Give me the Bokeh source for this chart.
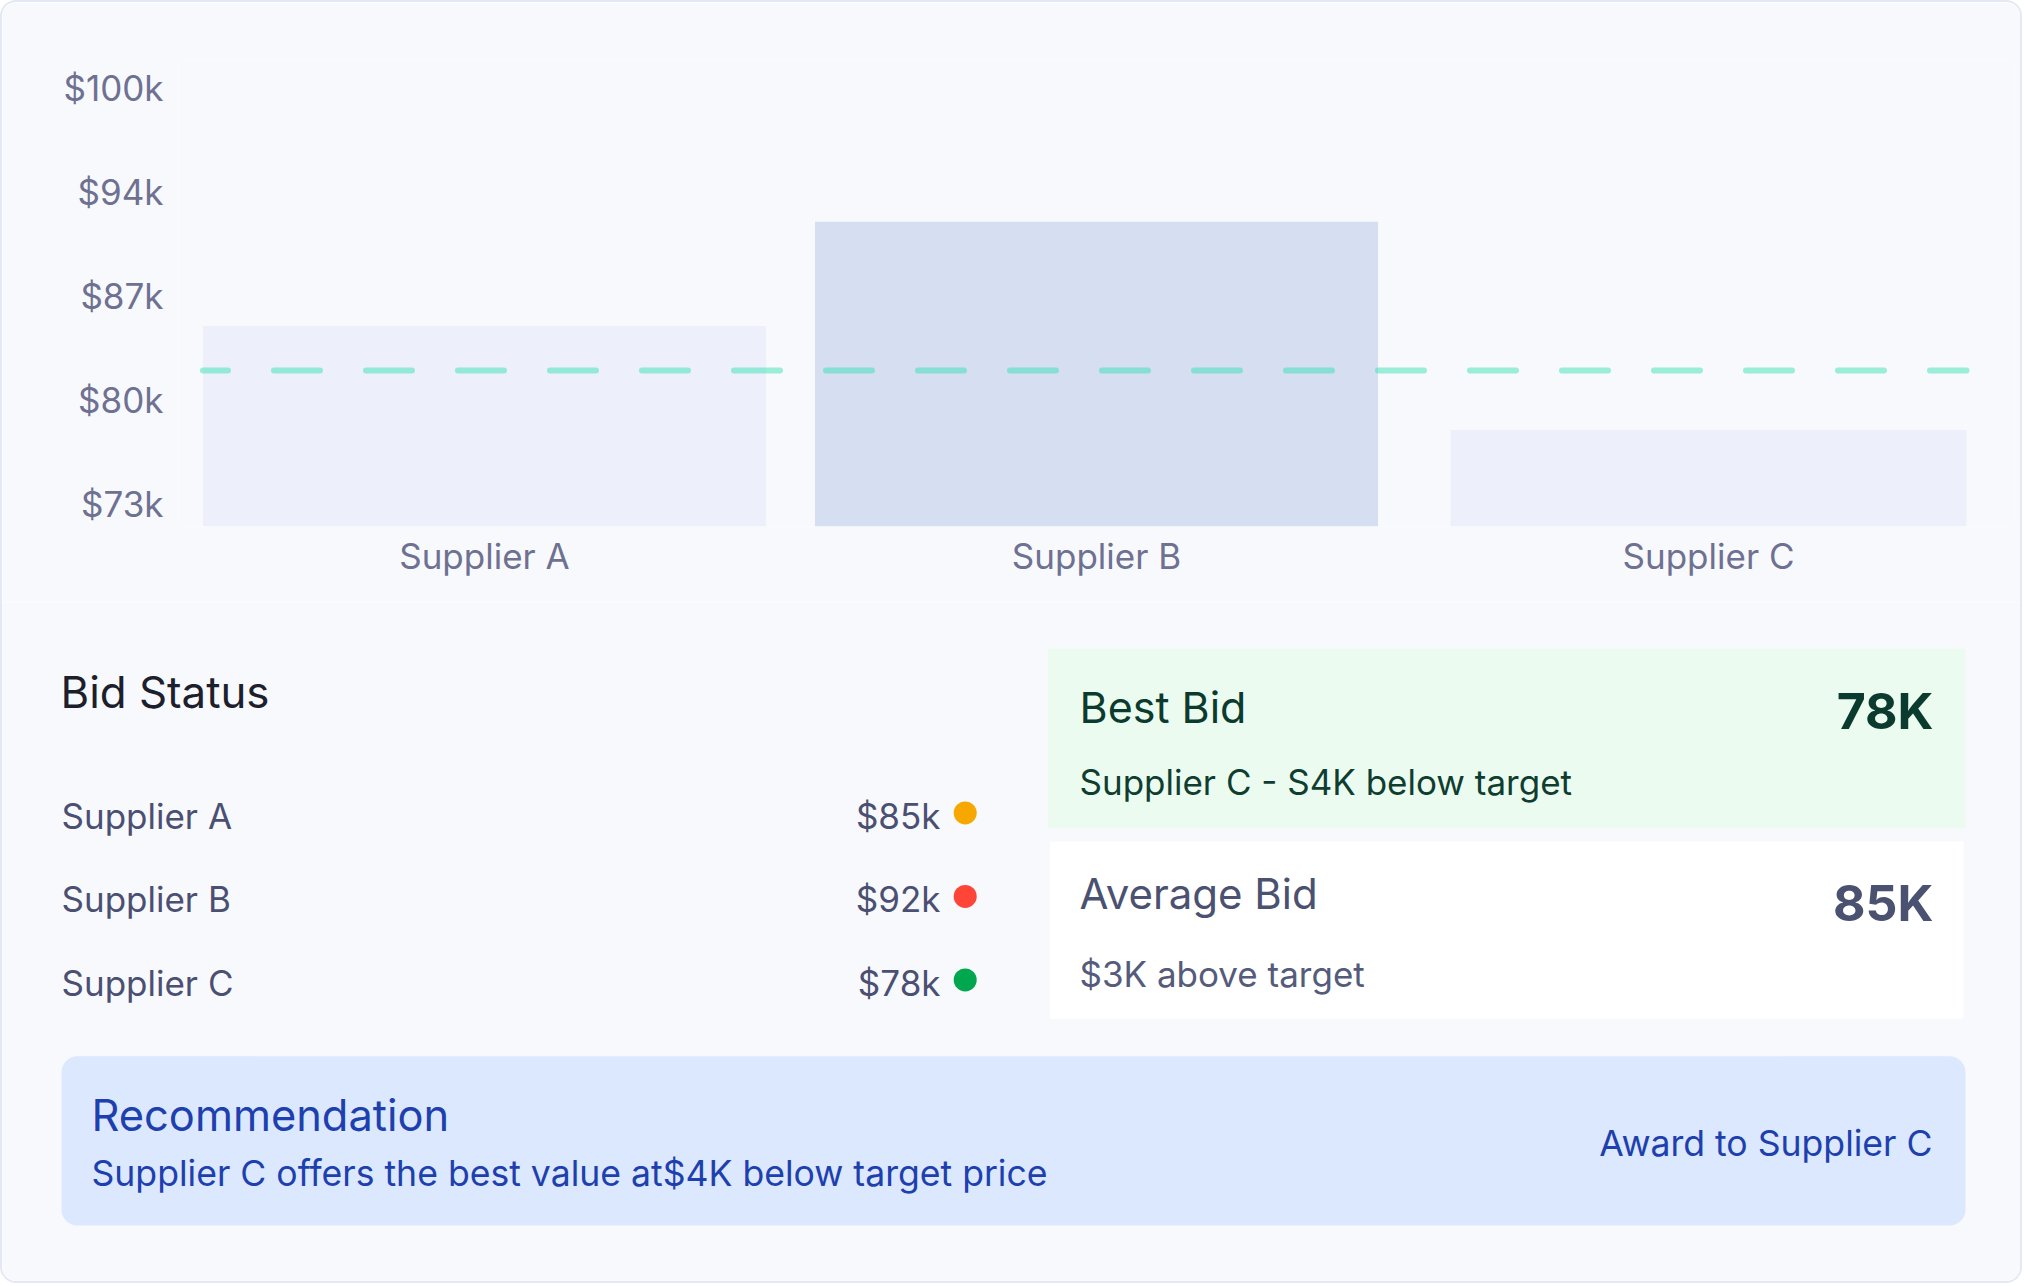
import numpy as np
from bokeh.plotting import figure
from bokeh.models import FactorRange, Range1d, FixedTicker, ColumnDataSource
from bokeh.transform import dodge
from bokeh.embed import file_html
from bokeh.resources import INLINE
from bokeh.core.properties import value

# ---------------- data ----------------
suppliers = ["Supplier A", "Supplier B", "Supplier C"]
bids = [85000, 92000, 78000]
target_price = 82000
y_tick_values = [73000, 80000, 87000, 94000, 101000]
y_tick_labels = ["$73k", "$80k", "$87k", "$94k", "$100k"]

best_label = "78K"
best_note = "Supplier C - S4K below target"
avg_label = "85K"
avg_note = "$3K above target"
rec_title = "Recommendation"
rec_text = "Supplier C offers the best value at$4K below target price"
rec_action = "Award to Supplier C"

# ---------------- styles ----------------
status_colors = ["#f6a800", "#ff4438", "#00a74f"]
bar_colors = ["#edf0fa", "#d6dff1", "#edf0fa"]
bar_widths = [0.92, 0.92, 0.843]
BG = "#f8f9fd"
BORDER = "2px solid #e4e8f2"
FONT = value("Inter")
W = 2022
TOP_H = 602
BOT_H = 681
K = 0.37  # baseline correction factor (fraction of font size)


def base(y, fs):
    return y - K * fs


# ---------------- bar chart ----------------
y0 = 71510
p = figure(width=W, height=TOP_H, x_range=FactorRange(*suppliers),
           y_range=Range1d(y0, 102850), output_backend="svg", toolbar_location=None,
           min_border_left=176, min_border_right=10, min_border_top=58, min_border_bottom=78,
           background_fill_color=BG, border_fill_color=BG, outline_line_color=None)
p.grid.visible = False
p.styles = {"border": BORDER, "border-bottom": "none",
            "border-radius": "16px 16px 0 0", "overflow": "hidden"}

src = ColumnDataSource(dict(x=suppliers, top=bids, color=bar_colors, w=bar_widths))
p.vbar(x="x", top="top", bottom=y0, width="w", source=src, fill_color="color", line_color=None)

tsrc = ColumnDataSource(dict(x0=[suppliers[0]], x1=[suppliers[-1]], y=[target_price]))
p.segment(x0=dodge("x0", -bar_widths[0] / 2, range=p.x_range),
          x1=dodge("x1", bar_widths[-1] / 2, range=p.x_range),
          y0="y", y1="y", source=tsrc, line_color="#2edfb1", line_alpha=0.47,
          line_width=6, line_dash="46 46", line_dash_offset=21, line_cap="round")

p.yaxis.ticker = FixedTicker(ticks=y_tick_values)
p.yaxis.major_label_overrides = {v: l for v, l in zip(y_tick_values, y_tick_labels)}
for ax in (p.xaxis, p.yaxis):
    ax.axis_line_color = None
    ax.major_tick_line_color = None
    ax.minor_tick_line_color = None
    ax.major_tick_out = 0
    ax.major_tick_in = 0
    ax.major_label_text_font = "Inter"
    ax.major_label_text_font_size = "35px"
    ax.major_label_text_color = "#6e7191"
p.yaxis.major_label_standoff = 15
p.xaxis.major_label_standoff = 8

# ---------------- bottom panel ----------------
ROW_GAP = 83.5
row0 = base(226, 35)
rows_range = Range1d(start=(BOT_H - row0) / ROW_GAP, end=-row0 / ROW_GAP)
p2 = figure(width=W, height=BOT_H, x_range=Range1d(0, W), y_range=Range1d(BOT_H, 0),
            output_backend="svg", toolbar_location=None, min_border=0,
            x_axis_location=None, y_axis_location=None,
            background_fill_color=BG, border_fill_color=BG, outline_line_color=None)
p2.grid.visible = False
p2.extra_y_ranges = {"rows": rows_range}
p2.styles = {"border": BORDER, "border-top": "none",
             "border-radius": "0 0 16px 16px", "overflow": "hidden"}


def txt(x, y, s, fs, color, align="left", bold=False):
    p2.text(x=[x], y=[base(y, fs)], text=[s], text_font=FONT, text_font_size=f"{fs}px",
            text_color=color, text_baseline="alphabetic", text_align=align,
            text_font_style="bold" if bold else "normal")


txt(58, 106, "Bid Status", 43.8, "#1d1f2c")

rsrc = ColumnDataSource(dict(name=suppliers, row=list(range(len(suppliers))),
                             val=[f"${b // 1000}k" for b in bids], color=status_colors))
p2.text(x=59, y="row", text="name", source=rsrc, y_range_name="rows", text_font=FONT,
        text_font_size="35px", text_color="#4b5072", text_baseline="alphabetic")
p2.text(x=938, y="row", text="val", source=rsrc, y_range_name="rows", text_font=FONT,
        text_font_size="35px", text_color="#4b5072", text_baseline="alphabetic", text_align="right")
p2.scatter(x=962.7, y=dodge("row", -0.032), source=rsrc, y_range_name="rows",
           size=23, fill_color="color", line_color=None)

# Best bid card
p2.quad(left=[1045.5], right=[1962.7], top=[46.3], bottom=[225.7], fill_color="#ebfbf0", line_color=None)
txt(1077, 120.7, "Best Bid", 43, "#0b3b2e")
txt(1931, 126.7, best_label, 50, "#0b3b2e", align="right", bold=True)
txt(1077, 192, best_note, 35, "#0f3d30")

# Average bid card
p2.quad(left=[1047.4], right=[1961], top=[239], bottom=[416.3], fill_color="#ffffff", line_color=None)
txt(1077, 306.3, "Average Bid", 42, "#4b5170")
txt(1931, 318.7, avg_label, 50, "#4b5170", align="right", bold=True)
txt(1077, 384, avg_note, 35, "#555b7b")

# Recommendation panel
rec_kw = dict(left=[59], right=[1963], top=[453.7], bottom=[623], fill_color="#dbe8fd", line_color=None)
try:
    p2.quad(border_radius=16, **rec_kw)
except Exception:
    p2.quad(**rec_kw)
txt(89, 528.7, rec_title, 43.4, "#1e40af")
txt(89, 584, rec_text, 35.6, "#1e40af")
txt(1930, 553.7, rec_action, 35.6, "#1e40af", align="right")

open("out.html", "w").write(file_html([p, p2], INLINE))
